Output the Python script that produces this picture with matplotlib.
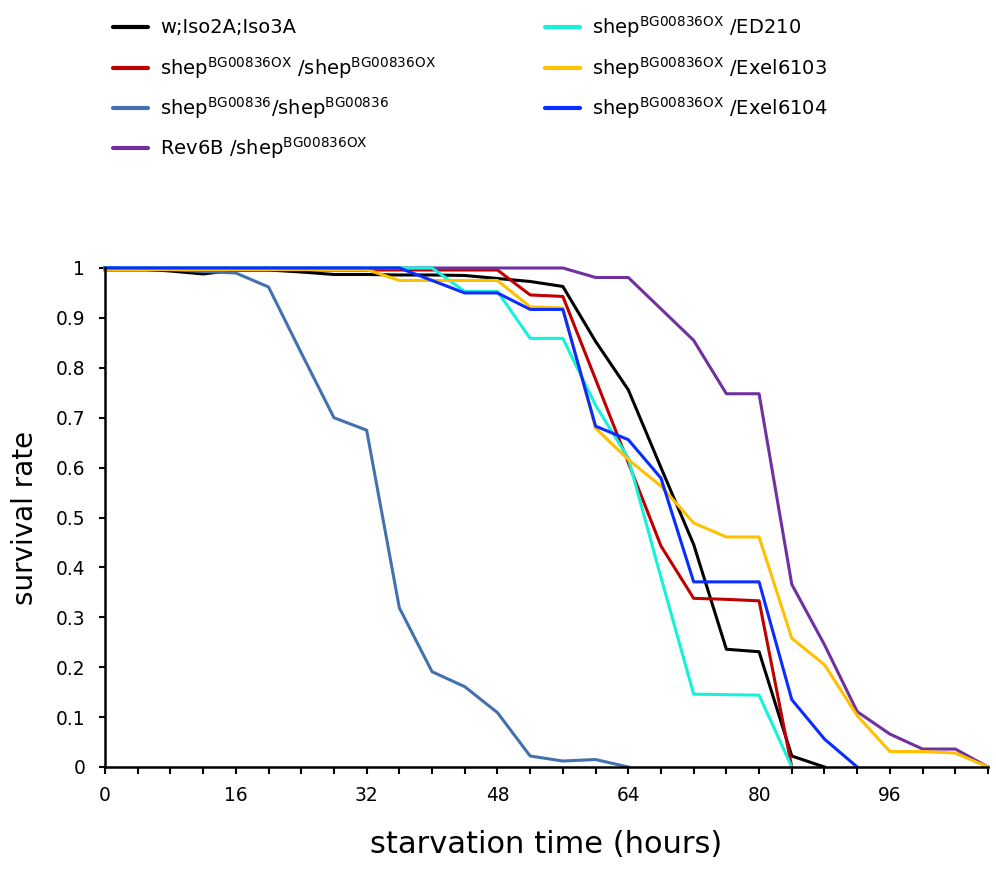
import numpy as np
import matplotlib
matplotlib.use('Agg')
import matplotlib.pyplot as plt

plt.rcParams['font.family'] = ['DejaVu Sans']
plt.rcParams['mathtext.fontset'] = 'dejavusans'

nan = np.nan

# starvation time points (hours)
hours = np.arange(0, 109, 4)

# survival rate per genotype, one value per time point
wild = [1.000, 0.998, 0.994, 0.988, 0.996, 0.996, 0.992, 0.987, 0.987, 0.986,
        0.986, 0.985, 0.979, 0.973, 0.963, 0.853, 0.756, 0.600, 0.446, 0.236,
        0.231, 0.022, 0.000, nan, nan, nan, nan, nan]
ox_ox = [0.996, 0.996, 0.996, 0.996, 0.996, 0.996, 0.996, 0.996, 0.996, 0.996,
         0.996, 0.996, 0.996, 0.946, 0.943, 0.777, 0.610, 0.443, 0.338, 0.336,
         0.333, 0.000, nan, nan, nan, nan, nan, nan]
homo = [1.000, 1.000, 0.997, 0.993, 0.990, 0.962, 0.830, 0.700, 0.675, 0.319,
        0.191, 0.161, 0.109, 0.022, 0.012, 0.015, 0.000, nan, nan, nan,
        nan, nan, nan, nan, nan, nan, nan, nan]
rev6b = [1.000, 1.000, 1.000, 1.000, 1.000, 1.000, 1.000, 1.000, 1.000, 1.000,
         1.000, 1.000, 1.000, 1.000, 1.000, 0.981, 0.981, 0.918, 0.855, 0.748,
         0.748, 0.366, 0.245, 0.111, 0.066, 0.036, 0.036, 0.000]
ed210 = [1.000, 1.000, 1.000, 1.000, 1.000, 1.000, 1.000, 1.000, 1.000, 1.000,
         1.000, 0.953, 0.953, 0.859, 0.859, 0.725, 0.619, 0.380, 0.146, 0.145,
         0.144, 0.000, nan, nan, nan, nan, nan, nan]
exel6103 = [0.997, 0.997, 0.997, 0.997, 0.997, 0.997, 0.997, 0.997, 0.997, 0.975,
            0.975, 0.975, 0.975, 0.922, 0.920, 0.679, 0.616, 0.563, 0.489, 0.461,
            0.461, 0.258, 0.205, 0.103, 0.031, 0.031, 0.028, 0.000]
exel6104 = [1.000, 1.000, 1.000, 1.000, 1.000, 1.000, 1.000, 1.000, 1.000, 1.000,
            0.975, 0.950, 0.950, 0.917, 0.917, 0.683, 0.656, 0.579, 0.371, 0.371,
            0.371, 0.135, 0.056, 0.000, nan, nan, nan, nan]

sup = r'$^{\mathrm{BG00836OX}}$'
labels = ['w;Iso2A;Iso3A',
          'shep' + sup + ' /shep' + sup,
          r'shep$^{\mathrm{BG00836}}$/shep$^{\mathrm{BG00836}}$',
          'Rev6B /shep' + sup,
          'shep' + sup + ' /ED210',
          'shep' + sup + ' /Exel6103',
          'shep' + sup + ' /Exel6104']
series = [wild, ox_ox, homo, rev6b, ed210, exel6103, exel6104]
colors = ['#000000', '#C00000', '#4371AD', '#7030A0', '#14F2DA', '#FFC000', '#0A2CFF']

fig = plt.figure(figsize=(9.96, 8.77), dpi=100)
ax = fig.add_axes([105 / 996, 1 - 767 / 877, 883 / 996, 499 / 877])

for vals, col in zip(series, colors):
    ax.plot(hours, vals, color=col, lw=2.2, clip_on=False)

ax.set_xlim(0, 108)
ax.set_ylim(0, 1)
ax.set_xticks(hours)
ax.set_xticklabels([str(h) if h % 16 == 0 else '' for h in hours])
yt = np.round(np.arange(0, 1.01, 0.1), 1)
ax.set_yticks(yt)
ax.set_yticklabels(['0', '0.1', '0.2', '0.3', '0.4', '0.5', '0.6', '0.7', '0.8', '0.9', '1'])
ax.tick_params(axis='x', direction='out', length=5, width=1.5, labelsize=13.4, pad=9)
ax.tick_params(axis='y', direction='out', length=4.3, width=1.5, labelsize=13.4, pad=10)
for s in ['top', 'right']:
    ax.spines[s].set_visible(False)
for s in ['left', 'bottom']:
    ax.spines[s].set_linewidth(1.8)

ax.set_xlabel('starvation time (hours)', fontsize=22, labelpad=18)
ax.set_ylabel('survival rate', fontsize=20, labelpad=12)

# legend drawn by hand in two columns (4 + 3 entries)
W, H = 996, 877
rows_y = [26.7, 68.3, 108.3, 148.3]
cols_x = [113, 545]
for i, (lab, col) in enumerate(zip(labels, colors)):
    c = 0 if i < 4 else 1
    r = i if i < 4 else i - 4
    x0 = cols_x[c]
    y0 = rows_y[r]
    fig.add_artist(plt.Line2D([x0 / W, (x0 + 35) / W], [1 - y0 / H, 1 - y0 / H],
                              color=col, lw=3, solid_capstyle='round'))
    fig.text((x0 + 47) / W, 1 - (y0 + 6.7) / H, lab, fontsize=14,
             ha='left', va='baseline')

fig.savefig('out.png', dpi=100)
